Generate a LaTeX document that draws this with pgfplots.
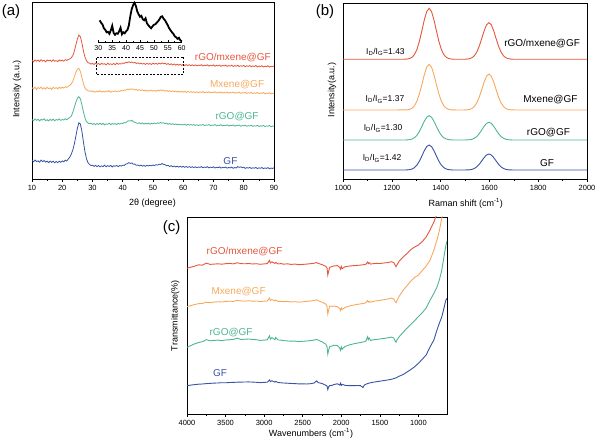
\documentclass[border=0pt]{standalone}
\usepackage{fontspec}
\setmainfont{Liberation Sans}
\usepackage{pgfplots}
\pgfplotsset{compat=1.18}
\usepackage{pgfplotstable}
\definecolor{cR}{HTML}{E6553C}
\definecolor{cO}{HTML}{F6A95C}
\definecolor{cG}{HTML}{4DB593}
\definecolor{cB}{HTML}{3853A4}

\pgfplotstableread{
x r o g b
10.0 117.5 90.2 58.4 17.6
10.5 116.2 89.1 57.3 16.1
11.0 118.1 90.8 59.0 18.0
11.5 116.8 88.7 57.6 16.4
12.0 117.9 90.5 58.8 17.2
12.5 116.4 89.4 57.1 15.8
13.0 118.3 90.9 58.6 17.9
13.5 116.9 89.0 57.9 16.3
14.0 117.6 90.3 59.2 17.5
14.5 116.1 88.9 57.4 15.9
15.0 118.0 90.6 58.3 16.9
15.5 117.2 89.3 57.0 15.4
16.0 117.8 90.1 58.7 17.0
16.5 116.5 88.6 57.5 15.6
17.0 118.2 90.7 58.9 16.8
17.5 116.7 89.5 57.2 15.2
18.0 117.4 90.4 58.5 16.6
18.5 116.3 89.0 57.8 15.3
19.0 118.1 90.9 59.1 16.9
19.5 117.0 89.6 57.6 15.7
20.0 117.9 90.8 58.4 17.1
20.5 116.8 89.9 58.0 16.2
21.0 118.4 91.3 59.3 17.8
21.5 117.5 90.6 58.2 17.0
22.0 118.6 91.8 59.6 19.0
22.5 119.0 92.6 60.4 20.8
23.0 120.3 94.1 62.0 23.9
23.5 122.4 96.8 65.7 28.2
24.0 126.8 101.2 70.6 34.1
24.5 132.9 105.7 75.8 41.8
25.0 139.0 108.8 79.6 49.7
25.5 143.0 109.6 81.3 55.2
26.0 141.2 106.4 79.1 54.0
26.5 135.0 100.3 73.2 46.5
27.0 127.1 94.2 66.0 36.2
27.5 121.0 90.1 60.2 26.4
28.0 117.3 88.0 56.3 19.5
28.5 115.4 87.4 55.1 15.3
29.0 114.8 86.6 54.3 13.6
29.5 113.9 87.2 54.8 12.4
30.0 114.6 86.1 53.6 12.9
30.5 113.5 86.9 54.5 11.6
31.0 114.9 85.8 53.2 12.7
31.5 113.7 87.0 54.7 11.3
32.0 114.5 86.2 53.5 12.5
32.5 113.3 87.3 54.9 11.1
33.0 114.7 85.9 53.4 12.2
33.5 113.8 86.8 54.6 11.4
34.0 114.3 86.0 53.1 12.8
34.5 113.1 87.1 54.2 11.2
35.0 114.8 86.3 53.7 12.4
35.5 113.6 87.4 54.8 11.5
36.0 114.2 85.7 53.3 12.6
36.5 113.4 86.9 54.4 11.0
37.0 114.6 86.4 53.8 12.3
37.5 113.2 87.2 54.5 11.7
38.0 114.9 86.1 53.4 12.6
38.5 113.7 87.0 54.7 11.3
39.0 114.4 86.6 53.9 12.5
39.5 114.0 87.5 54.9 11.9
40.0 115.0 87.1 54.5 12.8
40.5 114.6 88.0 55.4 12.6
41.0 115.7 87.8 55.2 13.9
41.5 115.3 88.9 56.6 14.2
42.0 116.2 88.4 57.3 15.4
42.5 115.5 89.2 56.9 14.6
43.0 116.0 88.6 57.8 15.1
43.5 115.1 89.0 56.1 13.8
44.0 115.6 88.1 55.7 13.9
44.5 114.5 88.7 55.0 12.7
45.0 115.2 87.5 54.6 13.0
45.5 114.1 88.3 55.3 12.1
46.0 114.9 87.4 54.2 12.9
46.5 113.9 88.2 55.1 11.8
47.0 114.6 87.0 53.9 12.6
47.5 113.6 88.0 54.8 11.7
48.0 114.7 86.8 54.0 12.7
48.5 113.8 87.7 54.9 12.0
49.0 114.5 87.1 53.8 12.8
49.5 113.5 87.9 54.7 12.2
50.0 114.8 86.9 54.1 13.0
50.5 113.9 87.6 55.0 12.4
51.0 114.6 86.7 54.4 13.3
51.5 113.7 87.8 55.2 12.9
52.0 114.9 87.2 54.6 13.8
52.5 114.0 88.1 55.5 13.4
53.0 115.1 87.3 54.8 14.5
53.5 114.2 87.9 55.3 13.6
54.0 114.8 86.8 54.2 13.3
54.5 113.6 87.6 54.9 12.2
55.0 114.4 86.5 53.7 12.6
55.5 113.3 87.3 54.5 11.5
56.0 114.2 86.4 53.6 12.3
56.5 113.1 87.1 54.3 11.2
57.0 114.0 86.2 53.4 12.0
57.5 112.9 87.0 54.0 11.0
58.0 113.8 86.0 53.2 11.8
58.5 112.8 86.8 53.9 10.9
59.0 113.7 85.9 53.1 11.7
59.5 112.6 86.7 53.8 10.8
60.0 113.5 85.8 53.0 11.6
60.5 112.5 86.6 53.7 10.7
61.0 113.4 85.6 52.8 11.5
61.5 112.4 86.5 53.6 10.6
62.0 113.3 85.7 52.9 11.4
62.5 112.3 86.4 53.5 10.5
63.0 113.2 85.5 52.7 11.3
63.5 112.2 86.3 53.4 10.4
64.0 113.1 85.4 52.6 11.2
64.5 112.1 86.2 53.3 10.3
65.0 113.0 85.3 52.5 11.1
65.5 112.4 86.1 53.2 10.6
66.0 113.3 85.6 52.8 11.4
66.5 112.0 86.4 53.6 10.2
67.0 112.9 85.2 52.4 11.0
67.5 112.3 86.0 53.1 10.5
68.0 113.2 85.5 52.7 11.3
68.5 111.9 86.3 53.5 10.1
69.0 112.8 85.1 52.3 10.9
69.5 112.2 85.9 53.0 10.4
70.0 113.1 85.4 52.6 11.2
70.5 111.8 86.2 53.4 10.0
71.0 112.7 85.0 52.2 10.8
71.5 112.1 85.8 52.9 10.3
72.0 113.0 85.3 52.5 11.1
72.5 111.7 86.1 53.3 9.9
73.0 112.6 84.9 52.1 10.7
73.5 112.0 85.7 52.8 10.2
74.0 112.9 85.2 52.4 11.0
74.5 111.6 86.0 53.2 9.8
75.0 112.5 84.8 52.0 10.6
75.5 111.9 85.6 52.7 10.1
76.0 112.8 85.1 52.3 10.9
76.5 111.5 85.9 53.1 9.7
77.0 112.4 84.7 51.9 10.5
77.5 111.8 85.5 52.6 10.0
78.0 112.7 85.0 52.2 11.4
78.5 111.4 85.8 53.0 10.6
79.0 112.3 84.6 51.8 11.2
79.5 111.7 85.4 52.5 10.3
80.0 112.6 84.9 52.1 10.8
80.5 111.3 85.7 52.9 9.6
81.0 112.2 84.5 51.7 10.4
81.5 111.6 85.3 52.4 9.9
82.0 112.5 84.8 52.0 10.7
82.5 111.2 85.6 52.8 9.5
83.0 112.1 84.4 51.6 10.3
83.5 111.5 85.2 52.3 9.8
84.0 112.4 84.7 51.9 10.6
84.5 111.1 85.5 52.7 9.4
85.0 112.0 84.3 51.5 10.2
85.5 111.4 85.1 52.2 9.7
86.0 112.3 84.6 51.8 10.5
86.5 111.0 85.4 52.6 9.3
87.0 111.9 84.2 51.4 10.1
87.5 111.3 85.0 52.1 9.6
88.0 112.2 84.5 51.7 10.4
88.5 110.9 85.3 52.5 9.2
89.0 111.8 84.1 51.3 10.0
89.5 111.2 84.9 52.0 9.5
90.0 112.1 84.4 51.6 10.3
}\xrd

\pgfplotstableread{
x y
30.5 22
31.0 19.5
31.5 18
32.0 14
32.5 12.5
33.0 10
33.5 10.5
34.0 8.5
34.5 12
35.0 16.5
35.5 9.5
36.0 7.5
36.5 9
37.0 8.5
37.5 11
38.0 14.5
38.5 8
39.0 10
39.5 9
40.0 11
40.5 12.5
41.0 17
41.5 26
42.0 33
42.5 37
43.0 39.5
43.5 36.5
44.0 31
44.5 28
45.0 25.5
45.5 26.5
46.0 23
46.5 22
47.0 24
47.5 19
48.0 17
48.5 15.5
49.0 14
49.5 16
50.0 17.5
50.5 18
51.0 19.5
51.5 21
52.0 23
52.5 25.5
53.0 26
53.5 23.5
54.0 22
54.5 19.5
55.0 17
55.5 14
56.0 12
56.5 10
57.0 8.5
57.5 6
58.0 5
58.5 3.5
59.0 4.5
59.5 2
60.0 1
}\inset

\pgfplotstableread{
x r o g b
1000 118.7 68.0 38.0 8.0
1100 118.7 68.0 38.0 8.0
1200 118.7 68.0 38.0 8.0
1253 118.8 68.1 38.0 8.0
1263 119.0 68.2 38.1 8.1
1273 119.5 68.7 38.4 8.4
1283 120.7 69.8 39.0 9.0
1293 123.5 72.3 40.3 10.4
1303 128.6 76.9 42.7 12.9
1313 136.6 84.0 46.5 16.8
1323 147.0 93.3 51.5 21.9
1333 157.9 103.1 56.7 27.2
1343 166.4 110.8 60.7 31.4
1353 169.7 113.7 62.3 33.0
1363 166.4 110.8 60.7 31.4
1373 157.9 103.1 56.7 27.2
1383 147.0 93.3 51.5 21.9
1393 136.6 84.0 46.5 16.8
1403 128.6 76.9 42.7 12.9
1413 123.5 72.3 40.3 10.4
1423 120.7 69.8 39.0 9.0
1433 119.5 68.7 38.4 8.4
1443 119.0 68.2 38.1 8.1
1453 118.8 68.1 38.0 8.0
1475 118.7 68.0 38.0 8.0
1498 118.75 68.05 38.0 8.0
1508 118.9 68.2 38.1 8.1
1518 119.3 68.5 38.3 8.2
1528 120.2 69.4 38.7 8.6
1538 122.1 71.4 39.7 9.5
1548 125.8 75.0 41.4 11.1
1558 131.5 80.6 44.2 13.6
1568 139.0 87.9 47.8 16.9
1578 146.9 95.7 51.6 20.3
1588 153.1 101.7 54.6 23.0
1598 155.4 104.0 55.7 24.0
1608 153.1 101.7 54.6 23.0
1618 146.9 95.7 51.6 20.3
1628 139.0 87.9 47.8 16.9
1638 131.5 80.6 44.2 13.6
1648 125.8 75.0 41.4 11.1
1658 122.1 71.4 39.7 9.5
1668 120.2 69.4 38.7 8.6
1678 119.3 68.5 38.3 8.2
1688 118.9 68.2 38.1 8.1
1698 118.75 68.05 38.0 8.0
1800 118.7 68.0 38.0 8.0
1900 118.7 68.0 38.0 8.0
2000 118.7 68.0 38.0 8.0
}\raman

\pgfplotstableread{
x r o g b
4000 145.7 107.3 66.7 28.3
3950 146.8 108.4 68.4 28.9
3900 147.9 109.5 70.2 29.4
3850 149.2 110.3 71.5 29.8
3800 148.8 110.6 72.3 30.0
3750 150.9 111.8 74.3 30.4
3700 149.6 111.4 73.2 30.6
3650 149.9 111.9 73.6 30.9
3600 150.2 112.3 73.9 31.0
3550 149.8 112.0 73.4 31.3
3500 150.3 112.5 74.0 31.2
3450 150.6 112.8 74.2 31.5
3400 150.1 112.6 74.6 31.6
3350 151.2 113.6 75.8 31.8
3300 150.4 113.1 74.5 31.9
3250 150.2 112.9 74.8 32.0
3200 150.5 113.2 75.0 32.1
3150 150.0 112.8 74.6 31.9
3100 150.3 113.0 74.3 31.7
3050 149.7 112.5 73.6 31.4
3000 150.1 112.8 73.9 31.6
2960 150.4 113.0 74.2 31.8
2930 153.6 116.0 78.2 34.0
2920 151.0 113.6 74.9 32.4
2900 152.2 114.5 76.4 33.2
2860 150.6 113.1 74.3 31.9
2850 151.6 113.9 76.5 32.6
2820 150.1 112.7 74.0 31.5
2780 150.4 112.6 73.9 31.2
2750 149.8 112.3 73.4 31.0
2700 150.2 112.5 73.1 30.8
2650 149.6 112.1 72.8 30.5
2600 149.9 112.3 72.9 30.4
2550 149.3 111.9 72.4 30.1
2500 149.6 112.2 72.7 30.2
2450 149.9 112.6 73.0 30.0
2400 150.3 113.0 73.4 30.3
2350 150.8 113.6 73.9 31.0
2320 151.4 114.2 74.6 33.2
2300 150.6 113.4 73.8 31.4
2250 149.4 111.8 72.2 30.5
2200 147.6 109.8 69.9 28.7
2185 146.0 107.5 67.2 28.0
2175 139.0 100.0 60.0 24.5
2165 142.5 103.8 63.6 27.0
2150 146.8 107.9 67.5 28.4
2120 147.4 107.6 68.0 28.6
2100 148.0 107.9 68.8 29.4
2050 148.4 107.4 68.4 30.2
2020 146.6 105.3 66.1 28.9
2010 144.8 103.4 63.8 30.8
2000 147.5 106.2 67.0 28.6
1990 145.2 104.6 64.7 29.6
1970 146.4 105.5 66.3 29.2
1950 147.3 106.6 67.6 28.6
1900 147.9 107.9 69.0 28.4
1850 148.3 108.8 70.0 28.3
1800 148.6 109.5 70.8 28.5
1750 148.9 110.1 71.5 28.4
1720 149.2 110.5 72.0 26.4
1700 149.4 110.8 72.3 29.0
1680 149.8 111.3 72.9 29.8
1660 151.9 113.4 77.2 30.4
1650 150.4 111.9 74.4 30.6
1640 151.3 112.6 76.0 30.9
1620 149.9 111.8 73.5 31.2
1600 150.2 112.4 74.0 31.6
1550 150.6 113.1 74.6 32.2
1500 150.5 113.6 75.0 32.8
1450 151.0 114.3 75.6 33.4
1400 151.4 115.0 76.1 34.0
1350 152.3 115.9 76.9 34.7
1320 151.4 115.0 76.0 35.4
1300 148.6 112.2 72.6 35.9
1290 147.2 111.3 71.8 36.2
1280 149.0 113.2 73.9 36.6
1250 152.8 117.8 77.2 37.8
1200 156.9 123.4 81.6 39.4
1150 160.4 128.2 85.6 41.9
1100 164.3 132.8 89.6 44.4
1050 167.0 136.5 93.4 47.2
1000 169.0 139.0 97.4 50.7
950 172.5 143.5 101.3 54.8
900 177.0 148.0 106.0 59.0
850 184.0 153.7 113.8 67.0
800 192.0 164.0 120.6 74.0
760 200.0 174.0 126.9 84.0
730 208.0 183.0 133.8 90.7
700 220.0 195.0 143.0 96.5
670 232.0 208.0 157.0 105.7
650 240.0 216.0 166.0 112.5
640 244.0 220.0 170.0 114.5
630 248.0 224.0 173.0 115.7
}\ftir

\pgfplotsset{
  panel/.style={
    scale only axis, anchor=south west, enlargelimits=false,
    axis line style={line width=0.8pt},
    tick align=outside, xtick pos=bottom, ytick=\empty,
    major tick length=3pt, minor tick length=1.8pt,
    every tick/.style={black, line width=0.6pt},
    tick label style={font=\fontsize{7.5}{8}\selectfont},
    /pgf/number format/assume math mode=true,
    /pgf/number format/1000 sep={},
    scaled x ticks=false,
  },
}
\tikzset{
  lbl/.style={font=\fontsize{10}{11}\selectfont},
  idig/.style={font=\fontsize{8.5}{9}\selectfont, text=black},
}

\begin{document}
\begin{tikzpicture}
\path[use as bounding box] (0pt,0pt) rectangle (597pt,439pt);

% (a) XRD
\begin{axis}[panel, at={(32pt,260pt)}, width=242pt, height=177pt,
  xmin=10, xmax=90, ymin=-1, ymax=176,
  xtick={10,20,...,90}, minor x tick num=1]
\addplot[cR, line width=0.8pt] table[x=x,y=r]{\xrd};
\addplot[cO, line width=0.8pt] table[x=x,y=o]{\xrd};
\addplot[cG, line width=0.8pt] table[x=x,y=g]{\xrd};
\addplot[cB, line width=0.8pt] table[x=x,y=b]{\xrd};
\draw[black, line width=0.9pt, dash pattern=on 2pt off 1.5pt] (axis cs:31.2,104) rectangle (axis cs:60.2,121);
\node[lbl, text=cR] at (axis cs:76.4,120.5) {rGO/mxene@GF};
\node[lbl, text=cO] at (axis cs:77.8,93) {Mxene@GF};
\node[lbl, text=cG] at (axis cs:77.8,61.3) {rGO@GF};
\node[lbl, text=cB] at (axis cs:75.6,17) {GF};
\end{axis}

% inset
\begin{axis}[at={(98.3pt,396.7pt)}, anchor=south west, scale only axis,
  width=83.4pt, height=40.5pt, enlargelimits=false,
  xmin=30, xmax=60, ymin=0, ymax=40.5,
  axis x line=bottom, axis y line=none,
  x axis line style={-, line width=0.8pt},
  xtick={30,35,...,60}, minor x tick num=1, tick align=inside,
  major tick length=2.5pt, minor tick length=1.5pt,
  every tick/.style={black, line width=0.6pt},
  tick label style={font=\fontsize{7}{8}\selectfont},
  /pgf/number format/assume math mode=true, clip=false]
\addplot[black, line width=1.8pt] table[x=x,y=y]{\inset};
\end{axis}

% (b) Raman
\begin{axis}[panel, at={(343pt,260pt)}, width=244pt, height=176pt,
  xmin=1000, xmax=2000, ymin=-1, ymax=175,
  xtick={1000,1200,...,2000}, minor x tick num=1]
\addplot[cR, line width=0.9pt] table[x=x,y=r]{\raman};
\addplot[cO, line width=0.9pt] table[x=x,y=o]{\raman};
\addplot[cG, line width=0.9pt] table[x=x,y=g]{\raman};
\addplot[cB, line width=0.9pt] table[x=x,y=b]{\raman};
\node[lbl, text=black] at (axis cs:1816,134.7) {rGO/mxene@GF};
\node[lbl, text=black] at (axis cs:1850,78.7) {Mxene@GF};
\node[lbl, text=black] at (axis cs:1842,45.3) {rGO@GF};
\node[lbl, text=black] at (axis cs:1836,14.7) {GF};
\node[idig] at (axis cs:1174,126.3) {I\textsubscript{D}/I\textsubscript{G}=1.43};
\node[idig] at (axis cs:1172,78.7) {I\textsubscript{D}/I\textsubscript{G}=1.37};
\node[idig] at (axis cs:1164,49.7) {I\textsubscript{D}/I\textsubscript{G}=1.30};
\node[idig] at (axis cs:1160,19.7) {I\textsubscript{D}/I\textsubscript{G}=1.42};
\end{axis}

% (c) FTIR
\begin{axis}[panel, at={(187pt,25pt)}, width=260pt, height=197pt,
  x dir=reverse, xmin=630, xmax=4000, ymin=0, ymax=197,
  xtick={1000,1500,...,4000}, minor x tick num=1]
\addplot[cR, line width=0.9pt] table[x=x,y=r]{\ftir};
\addplot[cO, line width=0.9pt] table[x=x,y=o]{\ftir};
\addplot[cG, line width=0.9pt] table[x=x,y=g]{\ftir};
\addplot[cB, line width=0.9pt] table[x=x,y=b]{\ftir};
\node[lbl, text=cR] at (axis cs:3254,162.3) {rGO/mxene@GF};
\node[lbl, text=cO] at (axis cs:3331,122.3) {Mxene@GF};
\node[lbl, text=cG] at (axis cs:3428,81.3) {rGO@GF};
\node[lbl, text=cB] at (axis cs:3571,40.7) {GF};
\end{axis}

% panel letters and axis labels
\node[font=\fontsize{15}{16}\selectfont] at (11pt,427pt) {(a)};
\node[font=\fontsize{15}{16}\selectfont] at (325pt,427pt) {(b)};
\node[font=\fontsize{15}{16}\selectfont] at (171.7pt,211.5pt) {(c)};
\node[font=\fontsize{9}{10}\selectfont, rotate=90] at (17pt,350pt) {Intensity (a.u.)};
\node[font=\fontsize{9}{10}\selectfont, rotate=90] at (332pt,349pt) {Intensity(a.u.)};
\node[font=\fontsize{9}{10}\selectfont, rotate=90] at (175.3pt,123.2pt) {Transmittance(\%)};
\node[font=\fontsize{9}{10}\selectfont] at (152.5pt,236pt) {2θ (degree)};
\node[font=\fontsize{9}{10}\selectfont] at (465.8pt,236pt) {Raman shift (cm\textsuperscript{-1})};
\node[font=\fontsize{9}{10}\selectfont] at (311pt,6pt) {Wavenumbers (cm\textsuperscript{-1})};
\end{tikzpicture}
\end{document}
